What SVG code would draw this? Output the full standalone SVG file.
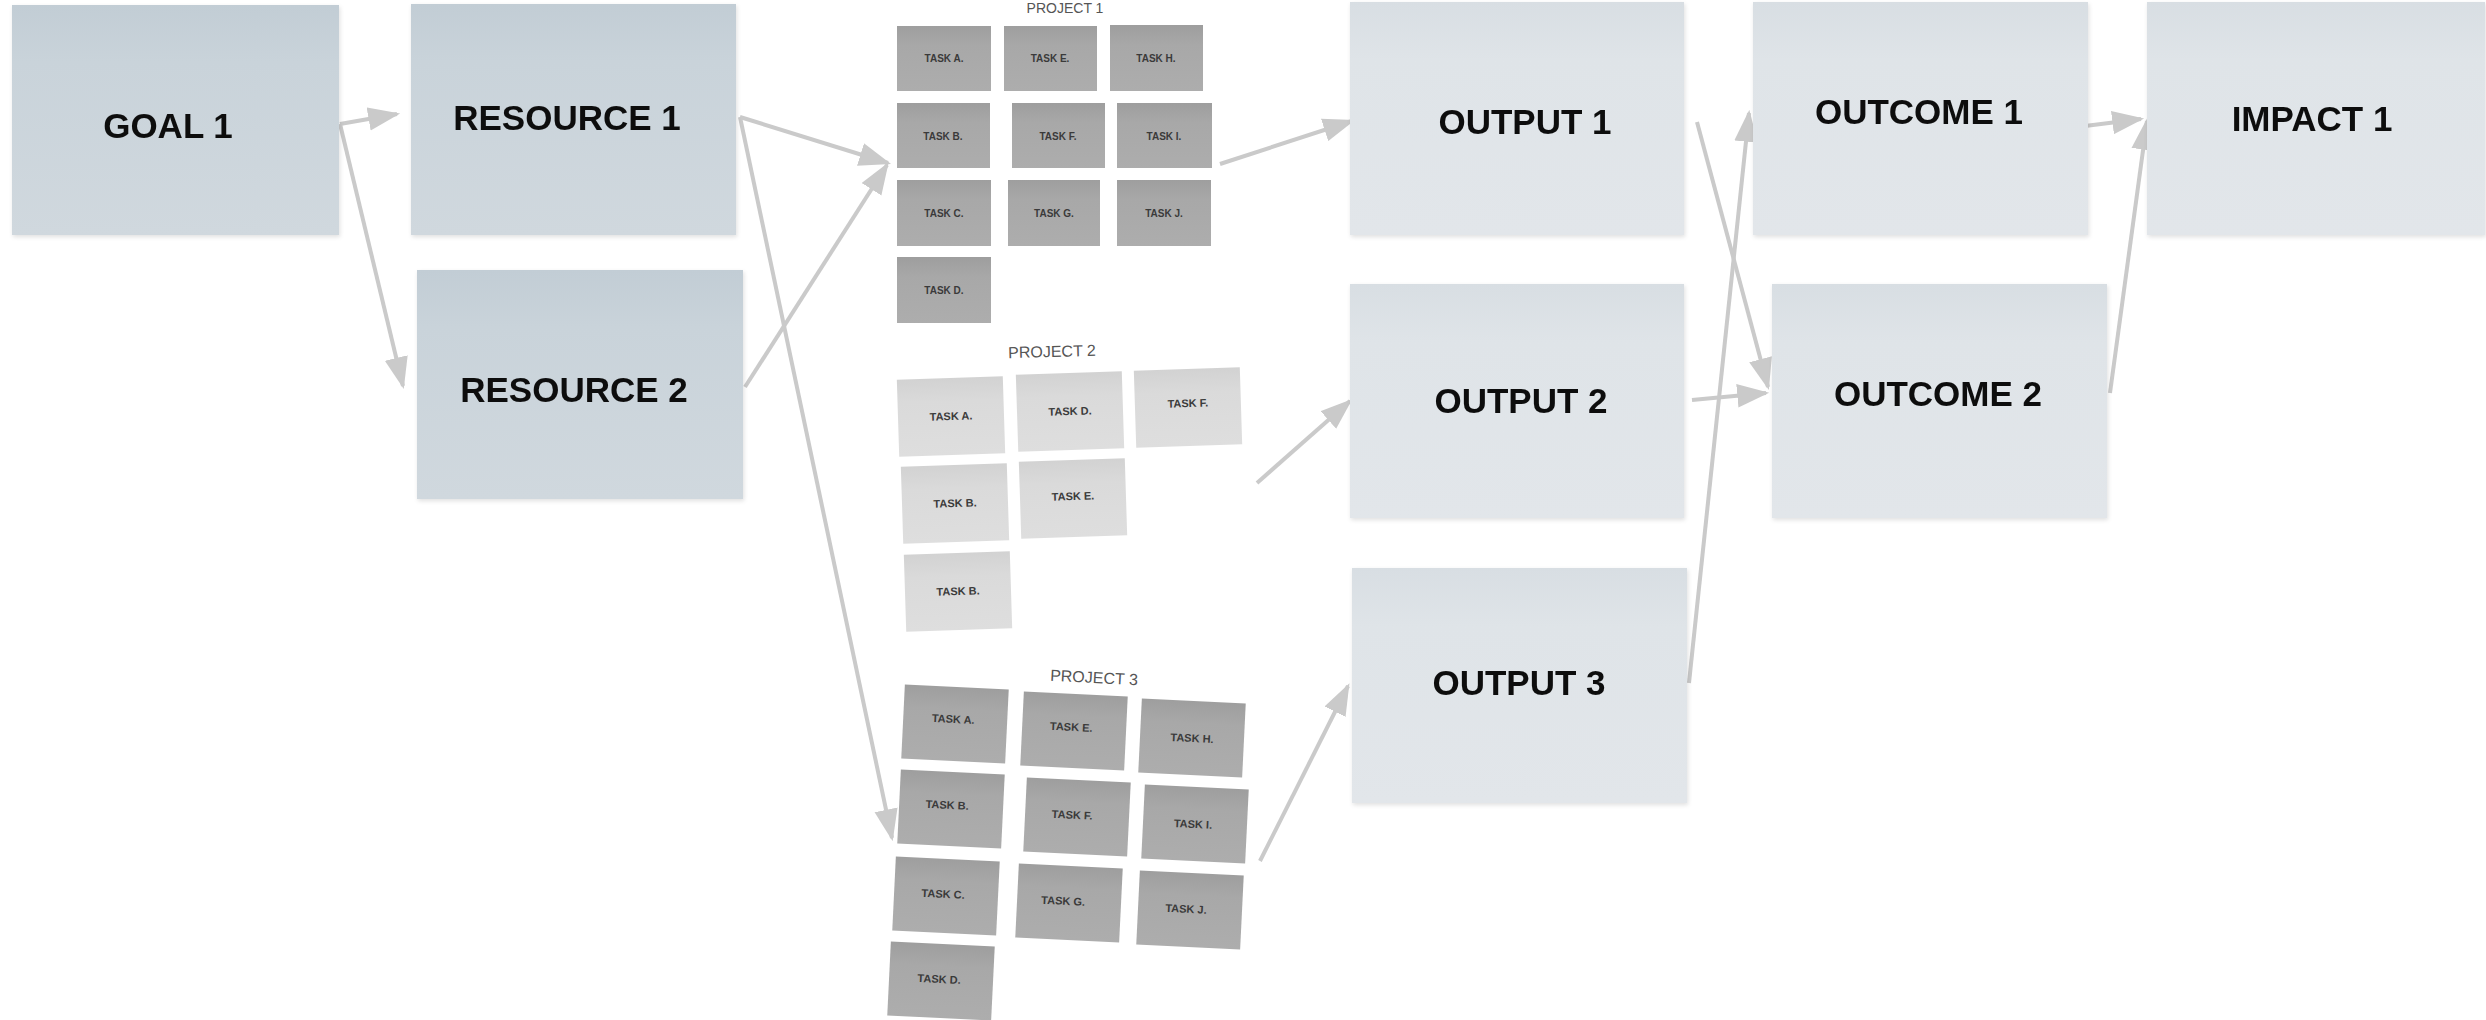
<svg xmlns="http://www.w3.org/2000/svg" width="2486" height="1020" viewBox="0 0 2486 1020">
<style>
.bg{fill:#ffffff}
.blue{fill:url(#gBlue)}
.light{fill:url(#gLight)}
.big{font-family:"Liberation Sans",Arial,sans-serif;font-weight:bold;font-size:35px;fill:#111;text-anchor:middle}
.t1{fill:url(#gTask)}
.t2{fill:url(#gTask2)}
.tt{font-family:"Liberation Sans",Arial,sans-serif;font-weight:bold;font-size:10px;fill:#3a3a3a;text-anchor:middle}
.tt11{font-size:11px}
.proj{font-family:"Liberation Sans",Arial,sans-serif;font-size:16px;fill:#555;text-anchor:middle}
.conn{fill:none;stroke:#cacaca;stroke-width:4;marker-end:url(#ah)}
</style>
<defs>
<linearGradient id="gBlue" x1="0" y1="0" x2="0" y2="1">
<stop offset="0" stop-color="#c2cdd5"/>
<stop offset="0.25" stop-color="#c9d3da"/>
<stop offset="1" stop-color="#d0d8de"/>
</linearGradient>
<linearGradient id="gLight" x1="0" y1="0" x2="0" y2="1">
<stop offset="0" stop-color="#d8dee3"/>
<stop offset="0.25" stop-color="#dfe4e8"/>
<stop offset="1" stop-color="#e2e6ea"/>
</linearGradient>
<linearGradient id="gTask" x1="0" y1="0" x2="0" y2="1">
<stop offset="0" stop-color="#9e9e9e"/>
<stop offset="0.3" stop-color="#a8a8a8"/>
<stop offset="1" stop-color="#adadad"/>
</linearGradient>
<linearGradient id="gTask2" x1="0" y1="0" x2="0" y2="1">
<stop offset="0" stop-color="#d2d2d2"/>
<stop offset="0.3" stop-color="#dadada"/>
<stop offset="1" stop-color="#dedede"/>
</linearGradient>
<filter id="sh" x="-5%" y="-5%" width="110%" height="115%">
<feDropShadow dx="1" dy="2" stdDeviation="2" flood-color="#000" flood-opacity="0.12"/>
</filter>
<marker id="ah" markerUnits="userSpaceOnUse" markerWidth="32" markerHeight="24" viewBox="0 0 30 22" refX="27" refY="11" orient="auto">
<path d="M0,0 L30,11 L0,22 z" fill="#cacaca"/>
</marker>
</defs>
<rect class="bg" x="0" y="0" width="2486" height="1020"/>

<g id="connectors">
<path class="conn" d="M340,124 L397,114"/>
<path class="conn" d="M340,124 L403,386"/>
<path class="conn" d="M740,117 L888,163"/>
<path class="conn" d="M745,387 L887,165"/>
<path class="conn" d="M740,117 L892,838"/>
<path class="conn" d="M1220,164 L1352,121"/>
<path class="conn" d="M1257,483 L1350,401"/>
<path class="conn" d="M1260,861 L1348,686"/>
<path class="conn" d="M1697,122 L1768,387"/>
<path class="conn" d="M1692,400 L1766,393"/>
<path class="conn" d="M1689,683 L1749,113"/>
<path class="conn" d="M2085,126 L2141,119"/>
<path class="conn" d="M2110,393 L2147,121"/>
</g>

<g id="goal1" filter="url(#sh)"><rect class="blue" x="12" y="5" width="327" height="230"/><text class="big" x="168" y="138">GOAL 1</text></g>
<g id="resource1" filter="url(#sh)"><rect class="blue" x="411" y="4" width="325" height="231"/><text class="big" x="567" y="130">RESOURCE 1</text></g>
<g id="resource2" filter="url(#sh)"><rect class="blue" x="417" y="270" width="326" height="229"/><text class="big" x="574" y="402">RESOURCE 2</text></g>
<g id="output1" filter="url(#sh)"><rect class="light" x="1350" y="2" width="334" height="233"/><text class="big" x="1525" y="134">OUTPUT 1</text></g>
<g id="output2" filter="url(#sh)"><rect class="light" x="1350" y="284" width="334" height="234"/><text class="big" x="1521" y="413">OUTPUT 2</text></g>
<g id="output3" filter="url(#sh)"><rect class="light" x="1352" y="568" width="335" height="235"/><text class="big" x="1519" y="695">OUTPUT 3</text></g>
<g id="outcome1" filter="url(#sh)"><rect class="light" x="1753" y="2" width="335" height="233"/><text class="big" x="1919" y="124">OUTCOME 1</text></g>
<g id="outcome2" filter="url(#sh)"><rect class="light" x="1772" y="284" width="335" height="234"/><text class="big" x="1938" y="406">OUTCOME 2</text></g>
<g id="impact1" filter="url(#sh)"><rect class="light" x="2147" y="2" width="338" height="233"/><text class="big" x="2312" y="131">IMPACT 1</text></g>

<g id="project1">
<text class="proj" style="font-size:14px" x="1065" y="13">PROJECT 1</text>
<g id="p1-task-a"><rect class="t1" x="897" y="26" width="94" height="65"/><text class="tt" x="944" y="62">TASK A.</text></g>
<g id="p1-task-e"><rect class="t1" x="1004" y="26" width="93" height="65"/><text class="tt" x="1050" y="62">TASK E.</text></g>
<g id="p1-task-h"><rect class="t1" x="1110" y="25" width="93" height="66"/><text class="tt" x="1156" y="62">TASK H.</text></g>
<g id="p1-task-b"><rect class="t1" x="897" y="103" width="93" height="65"/><text class="tt" x="943" y="140">TASK B.</text></g>
<g id="p1-task-f"><rect class="t1" x="1012" y="103" width="93" height="65"/><text class="tt" x="1058" y="140">TASK F.</text></g>
<g id="p1-task-i"><rect class="t1" x="1117" y="103" width="95" height="65"/><text class="tt" x="1164" y="140">TASK I.</text></g>
<g id="p1-task-c"><rect class="t1" x="897" y="180" width="94" height="66"/><text class="tt" x="944" y="217">TASK C.</text></g>
<g id="p1-task-g"><rect class="t1" x="1008" y="180" width="92" height="66"/><text class="tt" x="1054" y="217">TASK G.</text></g>
<g id="p1-task-j"><rect class="t1" x="1117" y="180" width="94" height="66"/><text class="tt" x="1164" y="217">TASK J.</text></g>
<g id="p1-task-d"><rect class="t1" x="897" y="257" width="94" height="66"/><text class="tt" x="944" y="294">TASK D.</text></g>
</g>

<g id="project2">
<text class="proj" x="1052" y="357" transform="rotate(-1.5 1052 352)">PROJECT 2</text>
<g id="p2-task-a" transform="translate(951 416) rotate(-1.8)"><rect class="t2" x="-53" y="-38" width="106" height="77"/><text class="tt tt11" x="0" y="4">TASK A.</text></g>
<g id="p2-task-d" transform="translate(1070 411) rotate(-1.8)"><rect class="t2" x="-53" y="-38" width="106" height="77"/><text class="tt tt11" x="0" y="4">TASK D.</text></g>
<g id="p2-task-f" transform="translate(1188 407) rotate(-1.8)"><rect class="t2" x="-53" y="-38" width="106" height="77"/><text class="tt tt11" x="0" y="0">TASK F.</text></g>
<g id="p2-task-b" transform="translate(955 503) rotate(-1.8)"><rect class="t2" x="-53" y="-38" width="106" height="77"/><text class="tt tt11" x="0" y="4">TASK B.</text></g>
<g id="p2-task-e" transform="translate(1073 498) rotate(-1.8)"><rect class="t2" x="-53" y="-38" width="106" height="77"/><text class="tt tt11" x="0" y="2">TASK E.</text></g>
<g id="p2-task-b2" transform="translate(958 591) rotate(-1.8)"><rect class="t2" x="-53" y="-38" width="106" height="77"/><text class="tt tt11" x="0" y="4">TASK B.</text></g>
</g>

<g id="project3">
<text class="proj" x="1094" y="683" transform="rotate(3 1094 678)">PROJECT 3</text>
<g id="p3-task-a" transform="translate(955 724) rotate(2.8)"><rect class="t1" x="-52" y="-37" width="104" height="74"/><text class="tt tt11" x="-2" y="-1">TASK A.</text></g>
<g id="p3-task-e" transform="translate(1074 731) rotate(2.8)"><rect class="t1" x="-52" y="-37" width="104" height="74"/><text class="tt tt11" x="-3" y="0">TASK E.</text></g>
<g id="p3-task-h" transform="translate(1192 738) rotate(2.8)"><rect class="t1" x="-52" y="-37" width="104" height="74"/><text class="tt tt11" x="0" y="4">TASK H.</text></g>
<g id="p3-task-b" transform="translate(951 809) rotate(2.8)"><rect class="t1" x="-52" y="-37" width="104" height="74"/><text class="tt tt11" x="-4" y="0">TASK B.</text></g>
<g id="p3-task-f" transform="translate(1077 817) rotate(2.8)"><rect class="t1" x="-52" y="-37" width="104" height="74"/><text class="tt tt11" x="-5" y="2">TASK F.</text></g>
<g id="p3-task-i" transform="translate(1195 824) rotate(2.8)"><rect class="t1" x="-52" y="-37" width="104" height="74"/><text class="tt tt11" x="-2" y="4">TASK I.</text></g>
<g id="p3-task-c" transform="translate(946 896) rotate(2.8)"><rect class="t1" x="-52" y="-37" width="104" height="74"/><text class="tt tt11" x="-3" y="2">TASK C.</text></g>
<g id="p3-task-g" transform="translate(1069 903) rotate(2.8)"><rect class="t1" x="-52" y="-37" width="104" height="74"/><text class="tt tt11" x="-6" y="2">TASK G.</text></g>
<g id="p3-task-j" transform="translate(1190 910) rotate(2.8)"><rect class="t1" x="-52" y="-37" width="104" height="74"/><text class="tt tt11" x="-4" y="3">TASK J.</text></g>
<g id="p3-task-d" transform="translate(941 981) rotate(2.8)"><rect class="t1" x="-52" y="-37" width="104" height="74"/><text class="tt tt11" x="-2" y="2">TASK D.</text></g>
</g>
</svg>
